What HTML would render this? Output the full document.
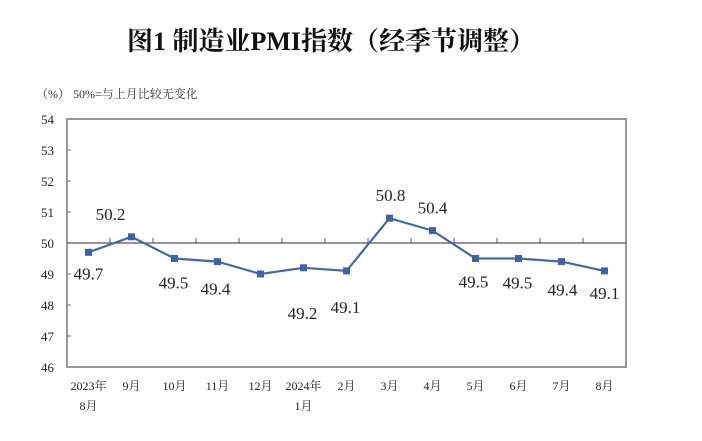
<!DOCTYPE html>
<html><head><meta charset="utf-8"><style>
html,body{margin:0;padding:0;background:#fff;}
svg{display:block;}
text{font-family:"Liberation Serif","Noto Serif CJK SC",serif;}
</style></head><body>
<svg id="chart" width="702" height="441" viewBox="0 0 702 441">
<text x="331" y="50" text-anchor="middle" font-size="26" font-weight="bold" fill="#111" font-family="'Noto Sans CJK SC',sans-serif">图1  制造业PMI指数（经季节调整）</text>
<text x="36" y="98" font-size="12" fill="#333">（%）  50%=与上月比较无变化</text>
<g id="plot"></g>
</svg>
<script>
const categories=["2023年|8月","9月","10月","11月","12月","2024年|1月","2月","3月","4月","5月","6月","7月","8月"];
const values=[49.7,50.2,49.5,49.4,49.0,49.2,49.1,50.8,50.4,49.5,49.5,49.4,49.1];
const valueLabels=["49.7","50.2","49.5","49.4","","49.2","49.1","50.8","50.4","49.5","49.5","49.4","49.1"];
const yTicks=[46,47,48,49,50,51,52,53,54];
const labelDx=[0,-21,-1,-2,0,-1,-1,1,0,-2,-1,1,0];
const labelDy=[21,-23,24,27,0,45,36,-23,-23,23,24,28,22];
const L=67,R=626,T=119,B=367;
const yMin=46,yMax=54;
const NS="http://www.w3.org/2000/svg";
const g=document.getElementById('plot');
const bw=(R-L)/categories.length;
function x(i){return L+bw*(i+0.5);}
function y(v){return B-(v-yMin)/(yMax-yMin)*(B-T);}
function mk(tag,attrs,parent){const e=document.createElementNS(NS,tag);for(const k in attrs)e.setAttribute(k,attrs[k]);(parent||g).appendChild(e);return e;}
let frame=mk('rect',{x:L,y:T,width:R-L,height:B-T,fill:'none',stroke:'#777','stroke-width':1.5});


yTicks.forEach(t=>{
  let tk=mk('line',{x1:L,x2:L+4,y1:y(t),y2:y(t),stroke:'#777'});
  
  
  let tl=mk('text',{x:L-13,y:y(t)+5,'font-size':13,'text-anchor':'end',fill:'#222'});
  tl.textContent=t;
  
  
});
let ref=mk('line',{x1:L,x2:R,y1:y(50),y2:y(50),stroke:'#555','stroke-width':1.3});


for(let i=1;i<categories.length;i++){
  let tk=mk('line',{x1:L+bw*i,x2:L+bw*i,y1:y(50),y2:y(50)-5,stroke:'#555'});
  
  
}
categories.forEach((c,i)=>{
  const parts=c.split('|');
  parts.forEach((p,j)=>{
    let t=mk('text',{x:x(i),y:B+23+j*20,'font-size':12,'text-anchor':'middle',fill:'#222'});
    t.textContent=p;
    
    
  });
});
let line=mk('polyline',{points:values.map((v,i)=>x(i)+','+y(v)).join(' '),fill:'none',stroke:'#4068b0','stroke-width':2.2});


values.forEach((v,i)=>{
  let m=mk('rect',{x:x(i)-3.5,y:y(v)-3.5,width:7,height:7,fill:'#3d62ad'});
  
  
  if(valueLabels[i]){
    let t=mk('text',{x:x(i)+labelDx[i],y:y(v)+labelDy[i]+6,'font-size':17,'text-anchor':'middle',fill:'#222'});
    t.textContent=valueLabels[i];
    
    
  }
});
</script>
</body></html>
